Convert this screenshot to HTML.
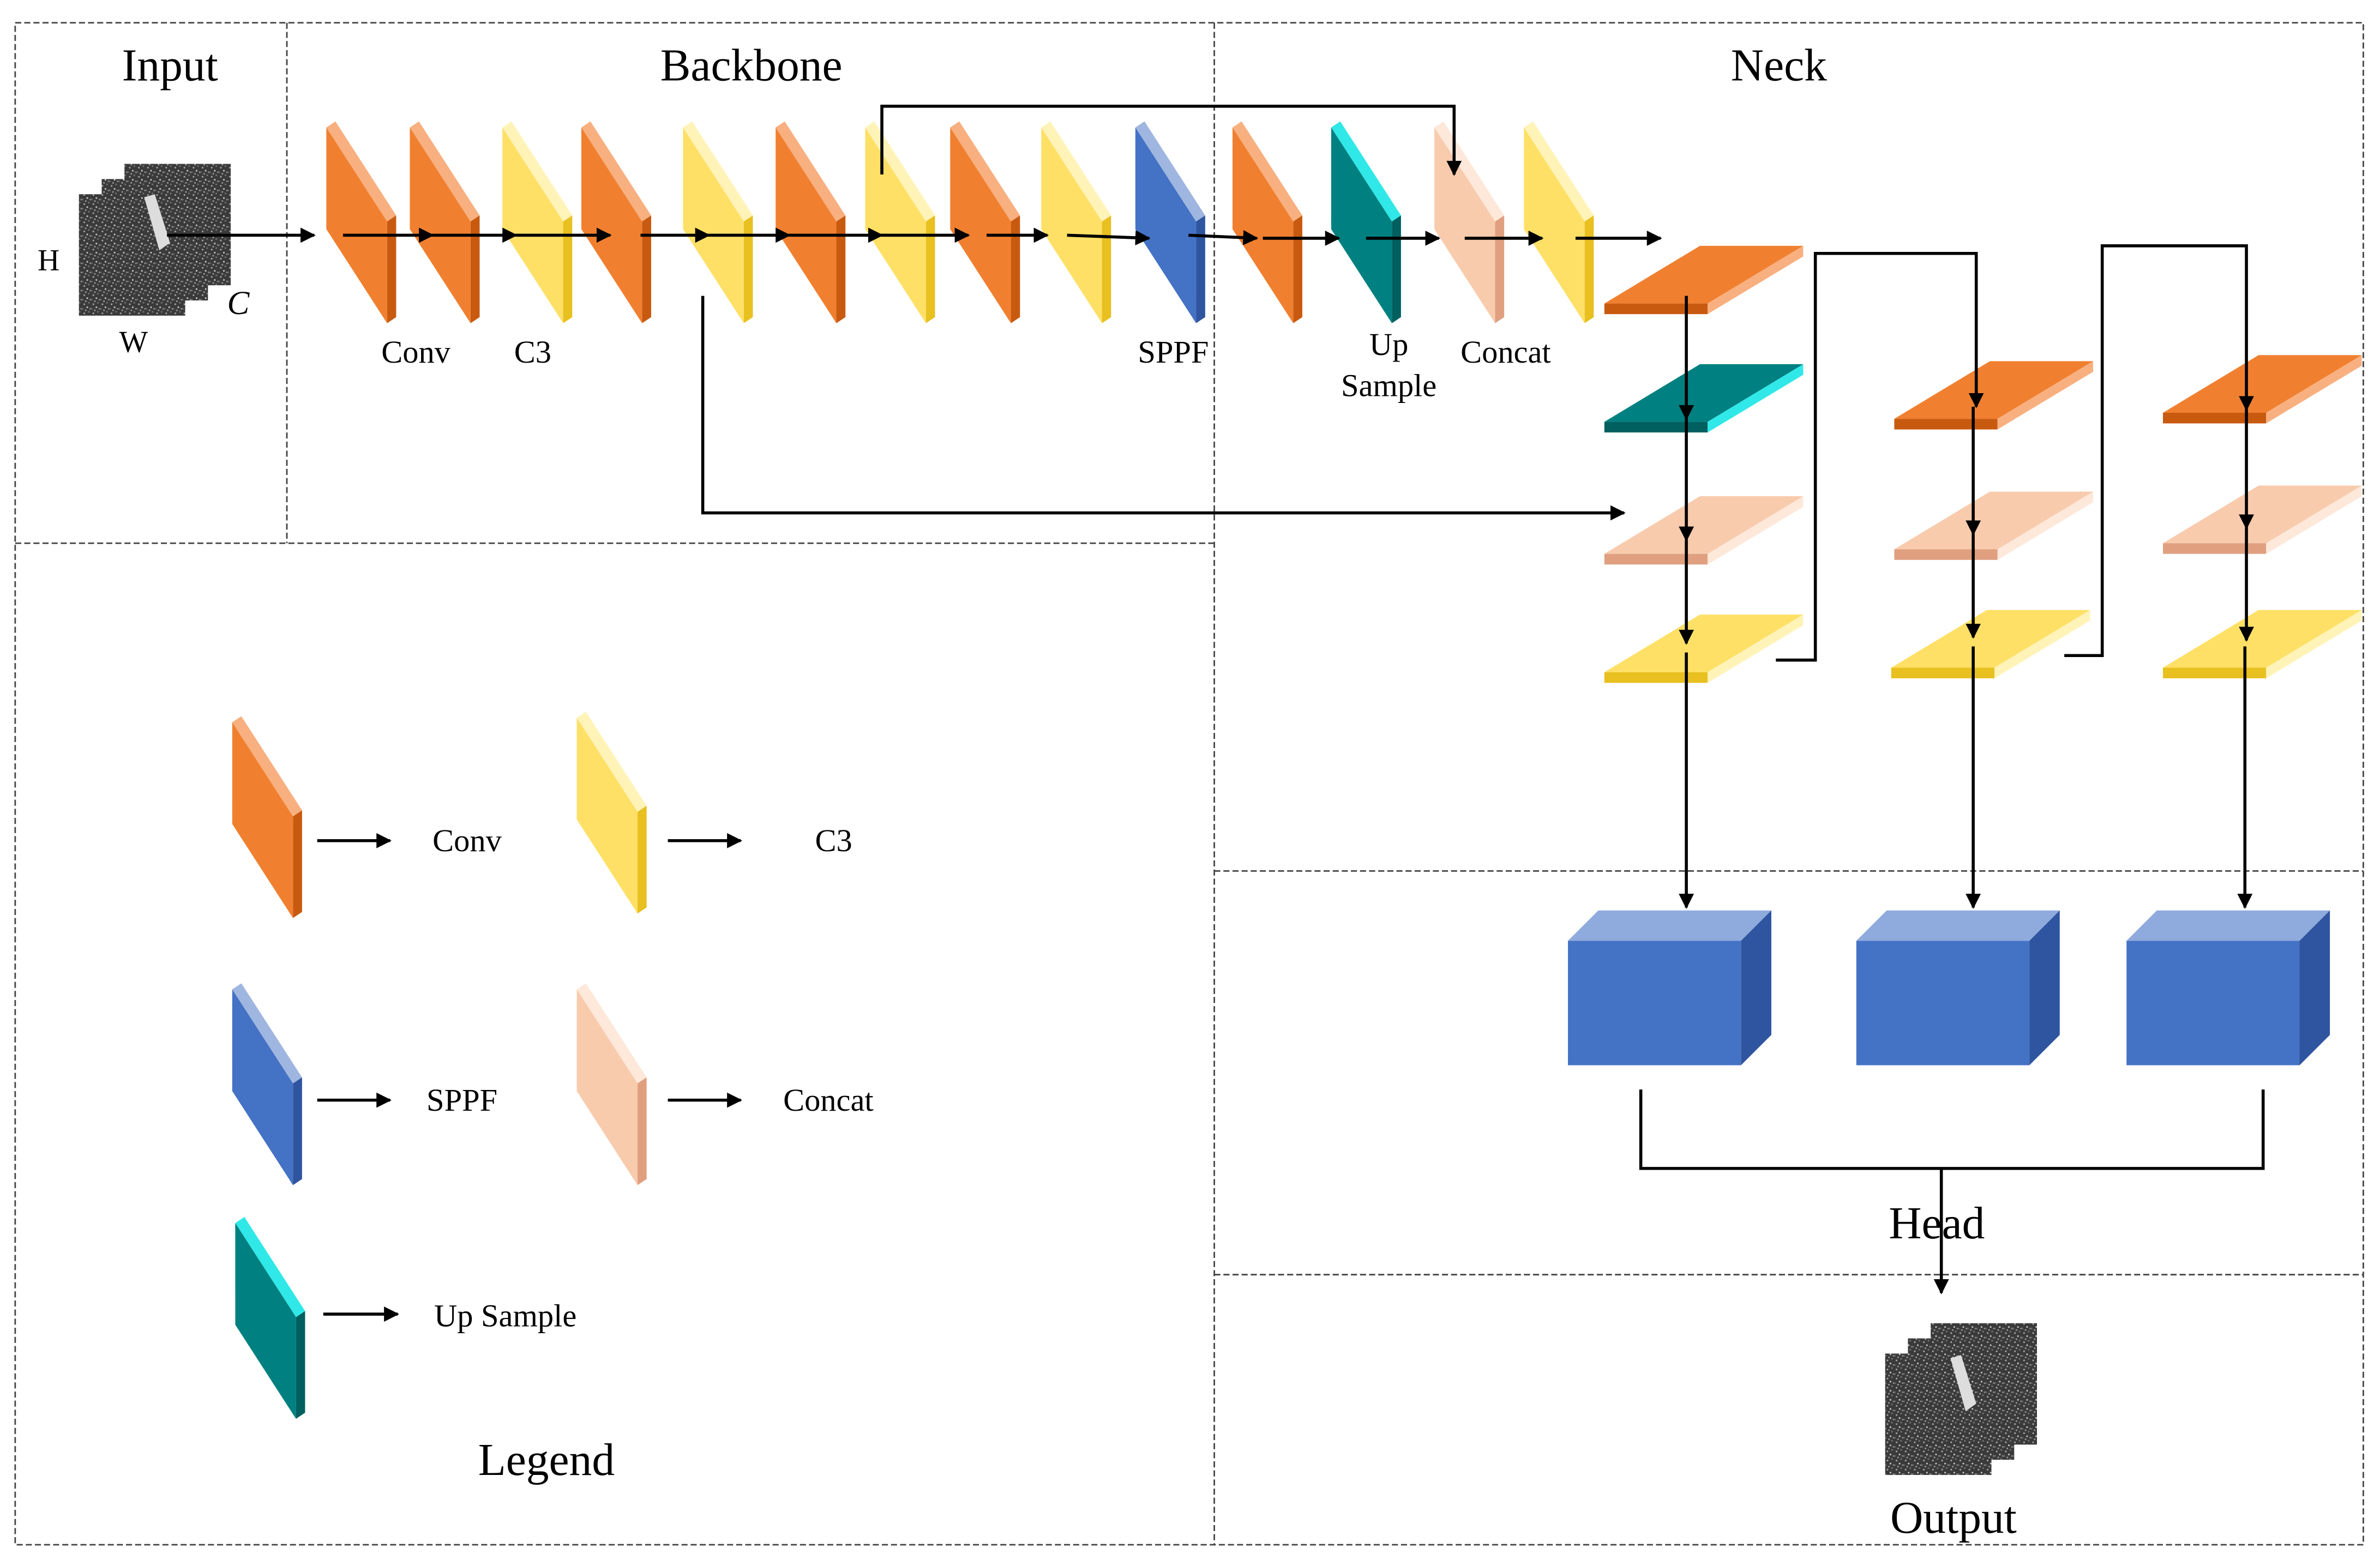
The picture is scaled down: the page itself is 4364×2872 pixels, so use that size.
<!DOCTYPE html>
<html><head><meta charset="utf-8"><style>
html,body{margin:0;padding:0;background:#fff;}
svg{display:block;}
text{font-family:"Liberation Serif",serif;fill:#000;}
</style></head><body>
<svg width="4364" height="2872" viewBox="0 0 1568 1032" preserveAspectRatio="none" xmlns="http://www.w3.org/2000/svg">
<defs>
<marker id="a" markerWidth="10" markerHeight="10" refX="9" refY="5" orient="auto" markerUnits="userSpaceOnUse"><path d="M0,0 L10,5 L0,10 z" fill="#000"/></marker>
<pattern id="noise" width="6" height="6" patternUnits="userSpaceOnUse"><rect width="6" height="6" fill="#3a3a3a"/><rect x="1" y="2" width="1" height="1" fill="#aaa"/><rect x="4" y="1" width="1" height="1" fill="#777"/><rect x="3" y="4" width="1" height="1" fill="#ccc"/><rect x="5" y="5" width="1" height="1" fill="#888"/><rect x="0" y="5" width="1" height="1" fill="#666"/><rect x="2" y="0" width="1" height="1" fill="#999"/></pattern>
</defs>
<rect width="1568" height="1032" fill="#fff"/>
<g fill="none" stroke="#444" stroke-width="1" stroke-dasharray="4,2">
<rect x="10" y="15" width="1547" height="1003"/>
<line x1="189" y1="15" x2="189" y2="358"/>
<line x1="800" y1="15" x2="800" y2="1018"/>
<line x1="10" y1="358" x2="800" y2="358"/>
<line x1="800" y1="574" x2="1557" y2="574"/>
<line x1="800" y1="840" x2="1557" y2="840"/>
</g>
<text x="112" y="53" font-size="30" text-anchor="middle">Input</text>
<text x="495" y="53" font-size="30" text-anchor="middle">Backbone</text>
<text x="1172" y="53" font-size="30" text-anchor="middle">Neck</text>
<text x="360" y="972" font-size="30" text-anchor="middle">Legend</text>
<text x="1276" y="816" font-size="30" text-anchor="middle">Head</text>
<text x="1287" y="1010" font-size="30" text-anchor="middle">Output</text>

<rect x="52" y="128" width="70" height="80" fill="url(#noise)"/>
<rect x="67" y="118" width="70" height="80" fill="url(#noise)"/>
<rect x="82" y="108" width="70" height="80" fill="url(#noise)"/>
<path d="M95,130 L105,165 L112,160 L102,128z" fill="#ddd"/>
<text x="32" y="178" font-size="20" text-anchor="middle">H</text>
<text x="88" y="232" font-size="20" text-anchor="middle">W</text>
<text x="157" y="207" font-size="22" text-anchor="middle" font-style="italic">C</text>

<rect x="1242" y="892" width="70" height="80" fill="url(#noise)"/>
<rect x="1257" y="882" width="70" height="80" fill="url(#noise)"/>
<rect x="1272" y="872" width="70" height="80" fill="url(#noise)"/>
<path d="M1285,895 L1295,930 L1302,925 L1292,893z" fill="#ddd"/>

<g id="slabs"></g>
<script>
var C={o:["#F08030","#C85A10","#F8B080"],y:["#FFE066","#E8C020","#FFF3B8"],b:["#4472C4","#2F55A0","#9FB6E0"],t:["#008080","#005F5F","#30E8E8"],p:["#F8CBAD","#E0A080","#FDE8DA"]};
var ns="http://www.w3.org/2000/svg",g=document.getElementById("slabs");
function poly(pts,f){var p=document.createElementNS(ns,"polygon");p.setAttribute("points",pts.map(function(q){return q.join(",")}).join(" "));p.setAttribute("fill",f);g.appendChild(p);}
function vs(x,y,c){var w=40,dy=62,h=67,k=C[c];
poly([[x,y],[x+6,y-4],[x+w+6,y+dy-4],[x+w,y+dy]],k[2]);
poly([[x+w,y+dy],[x+w+6,y+dy-4],[x+w+6,y+dy+h-4],[x+w,y+dy+h]],k[1]);
poly([[x,y],[x+w,y+dy],[x+w,y+dy+h],[x,y+h]],k[0]);}
function hs(x,y,c){var k=C[c];
poly([[x,y+38],[x+68,y+38],[x+131,y],[x+63,y]],k[0]);
poly([[x,y+38],[x+68,y+38],[x+68,y+45],[x,y+45]],k[1]);
poly([[x+68,y+38],[x+131,y],[x+131,y+7],[x+68,y+45]],k[2]);}
[[215,"o"],[270,"o"],[331,"y"],[383,"o"],[450,"y"],[511,"o"],[570,"y"],[626,"o"],[686,"y"],[748,"b"],[812,"o"],[877,"t"],[945,"p"],[1004,"y"]].forEach(function(s){vs(s[0],84,s[1]);});
vs(153,476,"o");vs(380,473,"y");vs(153,652,"b");vs(380,652,"p");vs(155,806,"t");
hs(1057,162,"o");hs(1057,240,"t");hs(1057,327,"p");hs(1057,405,"y");
hs(1248,238,"o");hs(1248,324,"p");hs(1246,402,"y");
hs(1425,234,"o");hs(1425,320,"p");hs(1425,402,"y");
</script>

<g>
<polygon points="1033,620 1053,600 1167,600 1147,620" fill="#8FAADC"/>
<polygon points="1147,620 1167,600 1167,682 1147,702" fill="#2F55A0"/>
<rect x="1033" y="620" width="114" height="82" fill="#4472C4"/>
<polygon points="1223,620 1243,600 1357,600 1337,620" fill="#8FAADC"/>
<polygon points="1337,620 1357,600 1357,682 1337,702" fill="#2F55A0"/>
<rect x="1223" y="620" width="114" height="82" fill="#4472C4"/>
<polygon points="1401,620 1421,600 1535,600 1515,620" fill="#8FAADC"/>
<polygon points="1515,620 1535,600 1535,682 1515,702" fill="#2F55A0"/>
<rect x="1401" y="620" width="114" height="82" fill="#4472C4"/>
</g>

<g stroke="#000" stroke-width="2" fill="none">
<line x1="110" y1="155" x2="207" y2="155" marker-end="url(#a)"/>
<line x1="226" y1="155" x2="285" y2="155" marker-end="url(#a)"/>
<line x1="285" y1="155" x2="340" y2="155" marker-end="url(#a)"/>
<line x1="340" y1="155" x2="402" y2="155" marker-end="url(#a)"/>
<line x1="422" y1="155" x2="467" y2="155" marker-end="url(#a)"/>
<line x1="467" y1="155" x2="520" y2="155" marker-end="url(#a)"/>
<line x1="520" y1="155" x2="581" y2="155" marker-end="url(#a)"/>
<line x1="581" y1="155" x2="638" y2="155" marker-end="url(#a)"/>
<line x1="650" y1="155" x2="690" y2="155" marker-end="url(#a)"/>
<line x1="703" y1="155" x2="757" y2="157" marker-end="url(#a)"/>
<line x1="783" y1="155" x2="828" y2="157" marker-end="url(#a)"/>
<line x1="832" y1="157" x2="882" y2="157" marker-end="url(#a)"/>
<line x1="900" y1="157" x2="948" y2="157" marker-end="url(#a)"/>
<line x1="965" y1="157" x2="1016" y2="157" marker-end="url(#a)"/>
<line x1="1038" y1="157" x2="1094" y2="157" marker-end="url(#a)"/>
<polyline points="581,115 581,70 958,70 958,115" marker-end="url(#a)"/>
<polyline points="463,195 463,338 1070,338" marker-end="url(#a)"/>
<line x1="1111" y1="195" x2="1111" y2="276" marker-end="url(#a)"/>
<line x1="1111" y1="276" x2="1111" y2="356" marker-end="url(#a)"/>
<line x1="1111" y1="356" x2="1111" y2="424" marker-end="url(#a)"/>
<line x1="1111" y1="430" x2="1111" y2="598" marker-end="url(#a)"/>
<polyline points="1170,435 1196,435 1196,167 1302,167 1302,268" marker-end="url(#a)"/>
<line x1="1300" y1="268" x2="1300" y2="352" marker-end="url(#a)"/>
<line x1="1300" y1="352" x2="1300" y2="420" marker-end="url(#a)"/>
<line x1="1300" y1="426" x2="1300" y2="598" marker-end="url(#a)"/>
<polyline points="1360,432 1385,432 1385,162 1480,162 1480,270" marker-end="url(#a)"/>
<line x1="1480" y1="270" x2="1480" y2="348" marker-end="url(#a)"/>
<line x1="1480" y1="348" x2="1480" y2="422" marker-end="url(#a)"/>
<line x1="1479" y1="426" x2="1479" y2="598" marker-end="url(#a)"/>
<polyline points="1081,718 1081,770 1491,770 1491,718"/>
<line x1="1279" y1="770" x2="1279" y2="852" marker-end="url(#a)"/>
<line x1="209" y1="554" x2="257" y2="554" marker-end="url(#a)"/>
<line x1="440" y1="554" x2="488" y2="554" marker-end="url(#a)"/>
<line x1="209" y1="725" x2="257" y2="725" marker-end="url(#a)"/>
<line x1="440" y1="725" x2="488" y2="725" marker-end="url(#a)"/>
<line x1="213" y1="866" x2="262" y2="866" marker-end="url(#a)"/>
</g>

<g font-size="21">
<text x="274" y="239" text-anchor="middle">Conv</text>
<text x="351" y="239" text-anchor="middle">C3</text>
<text x="773" y="239" text-anchor="middle">SPPF</text>
<text x="915" y="234" text-anchor="middle">Up</text>
<text x="915" y="261" text-anchor="middle">Sample</text>
<text x="992" y="239" text-anchor="middle">Concat</text>
<text x="285" y="561">Conv</text>
<text x="537" y="561">C3</text>
<text x="281" y="732">SPPF</text>
<text x="516" y="732">Concat</text>
<text x="286" y="874">Up Sample</text>
</g>
</svg>
</body></html>
